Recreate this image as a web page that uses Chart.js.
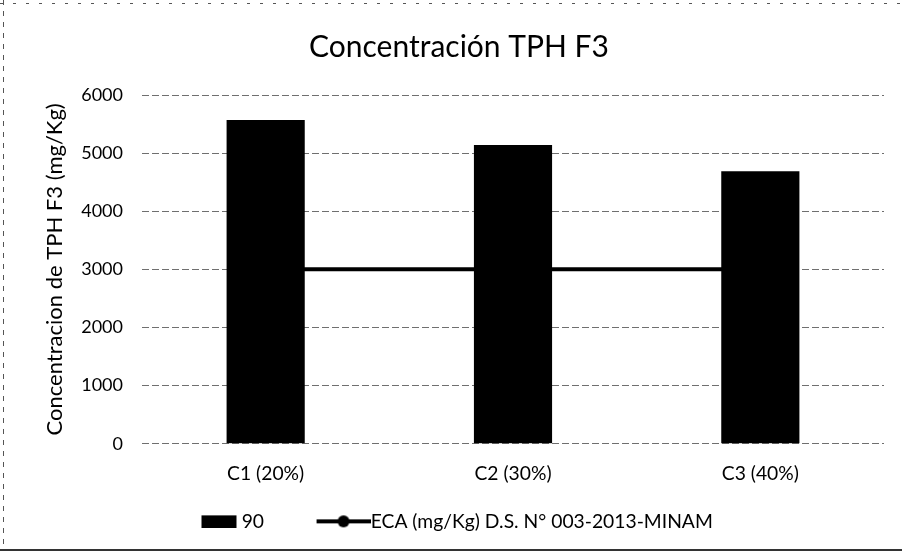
<!DOCTYPE html>
<html lang="es">
<head>
<meta charset="utf-8">
<title>Concentración TPH F3</title>
<script src="https://cdn.jsdelivr.net/npm/chart.js@4.4.1/dist/chart.umd.min.js"></script>
<style>
    body { margin: 0; background: #fff; }
    #wrap { width: 902px; height: 559px; }
</style>
</head>
<body>
<div id="wrap"><canvas id="chart" width="902" height="559"></canvas></div>
<script>
// Data
const categories = ['C1 (20%)', 'C2 (30%)', 'C3 (40%)'];
const tphF3 = [5570, 5140, 4690];
const ecaLimit = [3000, 3000, 3000];
const yMin = 0;
const yMax = 6000;
const yStep = 1000;
const barLabel = '90';
const lineLabel = 'ECA (mg/Kg) D.S. N° 003-2013-MINAM';

document.addEventListener('DOMContentLoaded', () => {
    Chart.defaults.font.family = 'Lato, "Open Sans", sans-serif';
    Chart.defaults.color = '#000';

    // legend swatches: the canvas is centred in a 72px slot, so the visible
    // part is pushed to the right end to sit close to its text
    function makeSwatch(w, h, draw) {
        const c = document.createElement('canvas');
        c.width = w;
        c.height = h;
        draw(c.getContext('2d'));
        return c;
    }
    const barSwatch = makeSwatch(87, 14, ctx => {
        ctx.fillStyle = '#000';
        ctx.fillRect(49, 1, 35, 13);
    });
    const lineSwatch = makeSwatch(91, 14, ctx => {
        ctx.fillStyle = '#000';
        ctx.fillRect(37, 5, 54, 4);
        ctx.beginPath();
        ctx.arc(64, 7, 6, 0, Math.PI * 2);
        ctx.fill();
    });

    // scanned page frame + title/legend placement
    const framePlugin = {
        id: 'frame',
        afterLayout(chart) {
            chart.legend.left = 135;
            chart.titleBlock.left = 34;  // title sits a little right of centre
        },
        beforeDraw(chart) {
            const ctx = chart.ctx;
            ctx.save();
            ctx.strokeStyle = '#555';
            ctx.lineWidth = 1;
            ctx.setLineDash([5, 6]);
            ctx.beginPath();
            ctx.moveTo(3.5, 0);
            ctx.lineTo(3.5, 550);
            ctx.stroke();
            ctx.setLineDash([3, 10]);
            ctx.beginPath();
            ctx.moveTo(0, 3.5);
            ctx.lineTo(902, 3.5);
            ctx.stroke();
            ctx.setLineDash([]);
            ctx.strokeStyle = '#333';
            ctx.lineWidth = 2;
            ctx.beginPath();
            ctx.moveTo(0, 550);
            ctx.lineTo(902, 550);
            ctx.stroke();
            ctx.restore();
        }
    };

    new Chart(document.getElementById('chart'), {
        type: 'bar',
        data: {
            labels: categories,
            datasets: [{
                type: 'bar',
                label: barLabel,
                data: tphF3,
                backgroundColor: '#000',
                borderWidth: 0,
                categoryPercentage: 1,
                barPercentage: 0.316,
                order: 1
            }, {
                type: 'line',
                label: lineLabel,
                data: ecaLimit,
                borderColor: '#000',
                backgroundColor: '#000',
                borderWidth: 4,
                pointRadius: 5,
                pointBackgroundColor: '#000',
                tension: 0,
                order: 2
            }]
        },
        options: {
            responsive: false,
            animation: false,
            layout: { padding: { left: 0, right: 18, top: 0, bottom: 18 } },
            scales: {
                x: {
                    grid: { display: false },
                    border: { display: false },
                    ticks: { font: { size: 19.3 }, padding: 11, color: '#000' },
                    afterFit: s => { s.height = 43; }
                },
                y: {
                    min: yMin,
                    max: yMax,
                    ticks: {
                        stepSize: yStep,
                        font: { size: 18 },
                        padding: 19,
                        color: '#000',
                        callback: v => String(v)
                    },
                    grid: { color: '#6f6f6f', lineWidth: 1, drawTicks: false },
                    border: { display: false, dash: [7, 3] },
                    title: {
                        display: true,
                        text: 'Concentracion de TPH F3 (mg/Kg)',
                        font: { size: 22 },
                        color: '#000',
                        padding: { top: 42, bottom: 0 }
                    },
                    afterFit: s => { s.width = 142; }
                }
            },
            plugins: {
                title: {
                    display: true,
                    text: 'Concentración TPH F3',
                    font: { size: 30, weight: 'normal' },
                    color: '#000',
                    padding: { top: 29, bottom: 30 }
                },
                legend: {
                    position: 'bottom',
                    align: 'start',
                    labels: {
                        usePointStyle: true,
                        pointStyleWidth: 72,
                        padding: 25,
                        font: { size: 19.3 },
                        color: '#000',
                        generateLabels: chart => {
                            const items = Chart.defaults.plugins.legend.labels.generateLabels(chart);
                            items.forEach(item => {
                                item.pointStyle = item.datasetIndex === 0 ? barSwatch : lineSwatch;
                            });
                            return items;
                        }
                    }
                },
                tooltip: { enabled: false }
            }
        },
        plugins: [framePlugin]
    });
});
</script>
</body>
</html>
